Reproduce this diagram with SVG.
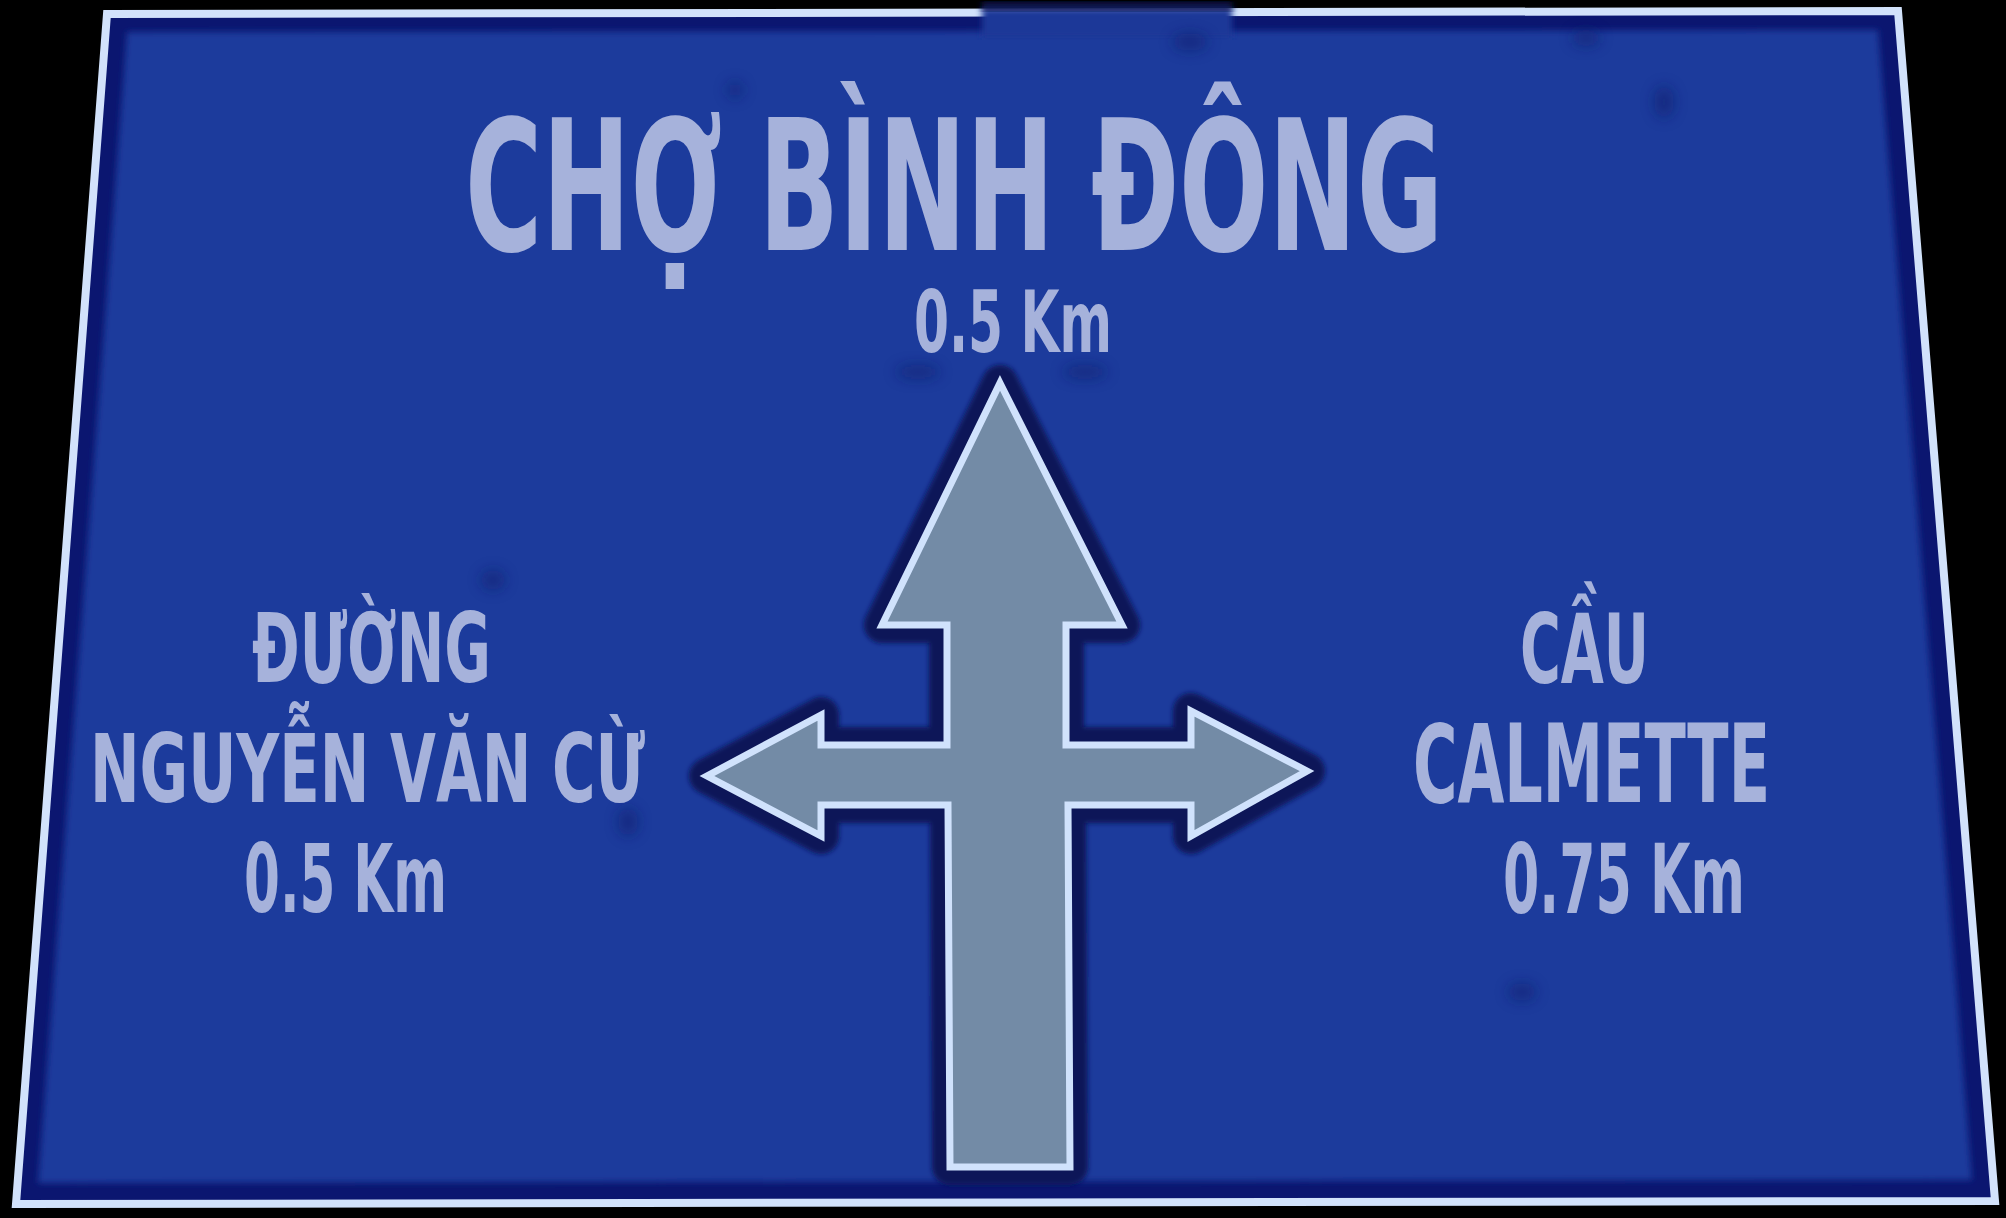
<svg xmlns="http://www.w3.org/2000/svg" width="2006" height="1218" viewBox="0 0 2006 1218">
  <defs>
    <filter id="soft" x="-5%" y="-5%" width="110%" height="110%">
      <feGaussianBlur stdDeviation="3"/>
    </filter>
    <filter id="halo" x="-10%" y="-10%" width="120%" height="120%">
      <feGaussianBlur stdDeviation="2.5"/>
    </filter>
    <filter id="spot" x="-100%" y="-100%" width="300%" height="300%">
      <feGaussianBlur stdDeviation="7"/>
    </filter>
    <style>
      .txt { font-family: 'DejaVu Sans Condensed', 'DejaVu Sans', 'Noto Sans', sans-serif; font-weight: bold; font-stretch: condensed; fill: #a6b2db; }
      .spot { fill: #0c1a6a; opacity: 0.55; filter: url(#spot); }
    </style>
  </defs>

  <!-- background -->
  <rect x="0" y="0" width="2006" height="1218" fill="#000000"/>

  <!-- sign plate -->
  <g id="sign">
    <polygon points="107,14 1898,11 1995,1201 16,1204" fill="#0b1670" stroke="#d2e2fb" stroke-width="8" stroke-linejoin="miter"/>
    <polygon points="127,32 1878,30 1972,1180 38,1183" fill="#1b3b9c" filter="url(#soft)"/>
    <!-- gap in top border -->
    <rect x="982" y="8" width="250" height="30" fill="#1a3898" filter="url(#soft)"/>
    <rect x="982" y="2" width="250" height="9" fill="#0a1255" filter="url(#soft)"/>
    <!-- faint smudges -->
    <ellipse class="spot" cx="1190" cy="42" rx="18" ry="9"/>
    <ellipse class="spot" cx="1586" cy="38" rx="14" ry="8"/>
    <ellipse class="spot" cx="1664" cy="102" rx="10" ry="16"/>
    <ellipse class="spot" cx="735" cy="90" rx="8" ry="8"/>
    <ellipse class="spot" cx="493" cy="580" rx="12" ry="10"/>
    <ellipse class="spot" cx="628" cy="822" rx="10" ry="14"/>
    <ellipse class="spot" cx="1522" cy="992" rx="14" ry="9"/>
    <ellipse class="spot" cx="918" cy="372" rx="22" ry="7"/>
    <ellipse class="spot" cx="1085" cy="372" rx="22" ry="7"/>
  </g>

  <!-- connectors: the direction arrow -->
  <g id="connectors">
    <path id="arrow-halo" d="M1000,383 L1122,625 L1066,625 L1066,745 L1191,745 L1191,711 L1307,771 L1191,836 L1191,805 L1068,805 L1070,1167 L950,1167 L948,805 L821,805 L821,836 L707,776 L821,715 L821,745 L947,745 L947,625 L882,625 Z" fill="#0a1358" stroke="#0a1358" stroke-width="36" stroke-linejoin="round" filter="url(#halo)"/>
    <path id="arrow" d="M1000,383 L1122,625 L1066,625 L1066,745 L1191,745 L1191,711 L1307,771 L1191,836 L1191,805 L1068,805 L1070,1167 L950,1167 L948,805 L821,805 L821,836 L707,776 L821,715 L821,745 L947,745 L947,625 L882,625 Z" fill="#738ba6" stroke="#d0e2fc" stroke-width="7" stroke-linejoin="miter"/>
  </g>

  <!-- destinations -->
  <g id="node-top">
    <text class="txt" x="465" y="250" font-size="181" textLength="978" lengthAdjust="spacingAndGlyphs">CHỢ BÌNH ĐÔNG</text>
    <text class="txt" x="914" y="352" font-size="85" textLength="198" lengthAdjust="spacingAndGlyphs">0.5 Km</text>
  </g>

  <g id="node-left">
    <text class="txt" x="252" y="682" font-size="96" textLength="239" lengthAdjust="spacingAndGlyphs">ĐƯỜNG</text>
    <text class="txt" x="90" y="802" font-size="94" textLength="555" lengthAdjust="spacingAndGlyphs">NGUYỄN VĂN CỪ</text>
    <text class="txt" x="244" y="912" font-size="95" textLength="203" lengthAdjust="spacingAndGlyphs">0.5 Km</text>
  </g>

  <g id="node-right">
    <text class="txt" x="1520" y="683" font-size="97" textLength="129" lengthAdjust="spacingAndGlyphs">CẦU</text>
    <text class="txt" x="1413" y="802" font-size="108" textLength="357" lengthAdjust="spacingAndGlyphs">CALMETTE</text>
    <text class="txt" x="1503" y="913" font-size="96" textLength="242" lengthAdjust="spacingAndGlyphs">0.75 Km</text>
  </g>
</svg>
